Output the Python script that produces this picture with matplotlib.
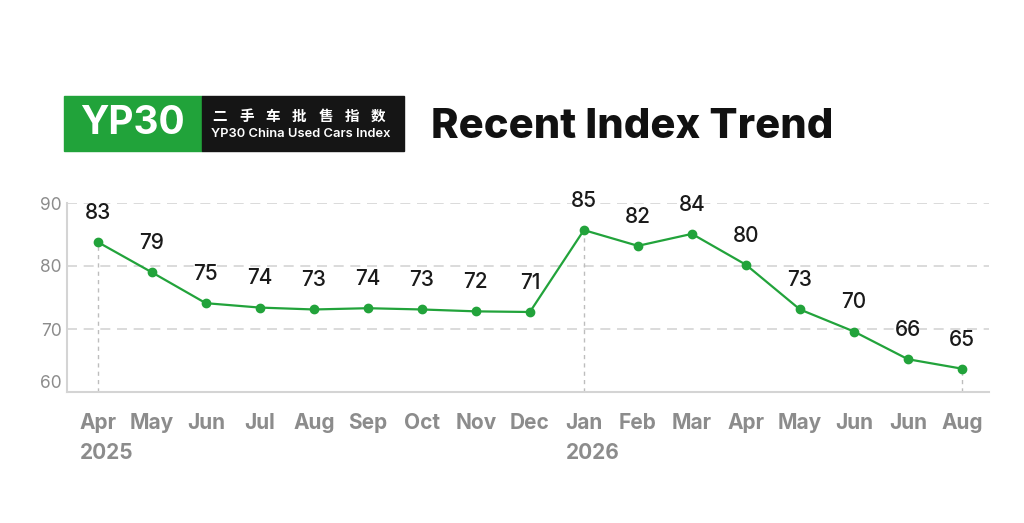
import matplotlib
matplotlib.use("Agg")
import matplotlib.pyplot as plt
from matplotlib.patches import Rectangle

plt.rcParams['font.family'] = ['Inter', 'Noto Sans CJK SC', 'DejaVu Sans']

# data
months = ['Apr', 'May', 'Jun', 'Jul', 'Aug', 'Sep', 'Oct', 'Nov', 'Dec',
          'Jan', 'Feb', 'Mar', 'Apr', 'May', 'Jun', 'Jun', 'Aug']
index_values = [83.8, 79.0, 74.1, 73.4, 73.1, 73.3, 73.1, 72.8, 72.7,
                85.7, 83.2, 85.1, 80.2, 73.1, 69.6, 65.2, 63.7]
value_labels = [83, 79, 75, 74, 73, 74, 73, 72, 71,
                85, 82, 84, 80, 73, 70, 66, 65]
year_labels = ['2025', '2026']
year_pos = [0, 9]
drop_lines = [0, 9, 16]
y_ticks = [60, 70, 80, 90]

GREEN = '#22a33b'
GRAY = '#8c8c8c'
LIGHT = '#d4d4d4'

W, H = 1024, 523
fig = plt.figure(figsize=(W / 100, H / 100), dpi=100)


def fx(x):
    return x / W


def fy(y):
    return 1 - y / H


# header block
fig.patches.append(Rectangle((fx(64), fy(151)), fx(202) - fx(64), fy(96) - fy(151),
                             transform=fig.transFigure, color='#21a33a', zorder=0))
fig.patches.append(Rectangle((fx(202), fy(151)), fx(404) - fx(202), fy(96) - fy(151),
                             transform=fig.transFigure, color='#151515', zorder=0))
fig.text(fx(132), fy(124), 'YP30', color='white', fontsize=28, fontweight='bold',
         ha='center', va='center')
cn = '二手车批售指数'
for i, ch in enumerate(cn):
    fig.text(fx(220 + i * 26.4), fy(116), ch, color='white', fontsize=10.5,
             fontweight='bold', family=['Noto Sans CJK SC'], ha='center', va='center')
fig.text(fx(301), fy(134), 'YP30 China Used Cars Index', color='white', fontsize=9.3,
         fontweight='semibold', ha='center', va='center')
fig.text(fx(431), fy(127), 'Recent Index Trend', color='#111111', fontsize=30,
         fontweight='heavy', ha='left', va='center')

# chart
ax = fig.add_axes([fx(67), fy(392), fx(989) - fx(67), fy(203) - fy(392)])
x = list(range(len(months)))
ax.plot(x, index_values, color=GREEN, lw=1.6, marker='o', ms=6, zorder=3, clip_on=False)

for i in drop_lines:
    ax.plot([i, i], [60, index_values[i]], color='#bdbdbd', lw=1, ls=(0, (3, 3)), zorder=1)

for xi, v, lab in zip(x, index_values, value_labels):
    ax.annotate(str(lab), (xi, v), xytext=(0, 21), textcoords='offset points',
                ha='center', va='center', fontsize=15, fontweight='medium',
                color='#1a1a1a', annotation_clip=False)

ax.set_xlim(-0.57, 16.5)
ax.set_ylim(60, 90)
ax.set_yticks(y_ticks)
ax.set_yticklabels([str(t) for t in y_ticks], color=GRAY, fontsize=12.5)
ax.yaxis.grid(True, color=LIGHT, lw=1.2, ls=(0, (6, 4)))
ax.set_axisbelow(True)
ax.tick_params(axis='y', length=0, pad=4)
ax.get_yticklabels()[0].set_va('bottom')

ax.set_xticks(x)
ax.set_xticklabels(months, color=GRAY, fontsize=15, fontweight='bold')
ax.tick_params(axis='x', length=0, pad=15)
for p, yr in zip(year_pos, year_labels):
    ax.annotate(yr, (p, 60), xytext=(-13, -44), textcoords='offset points',
                ha='left', va='center', fontsize=15, fontweight='bold', color=GRAY,
                annotation_clip=False)

for s in ['top', 'right']:
    ax.spines[s].set_visible(False)
for s in ['left', 'bottom']:
    ax.spines[s].set_color(LIGHT)
    ax.spines[s].set_linewidth(1.5)

fig.savefig('out.png', dpi=100, facecolor='white')
